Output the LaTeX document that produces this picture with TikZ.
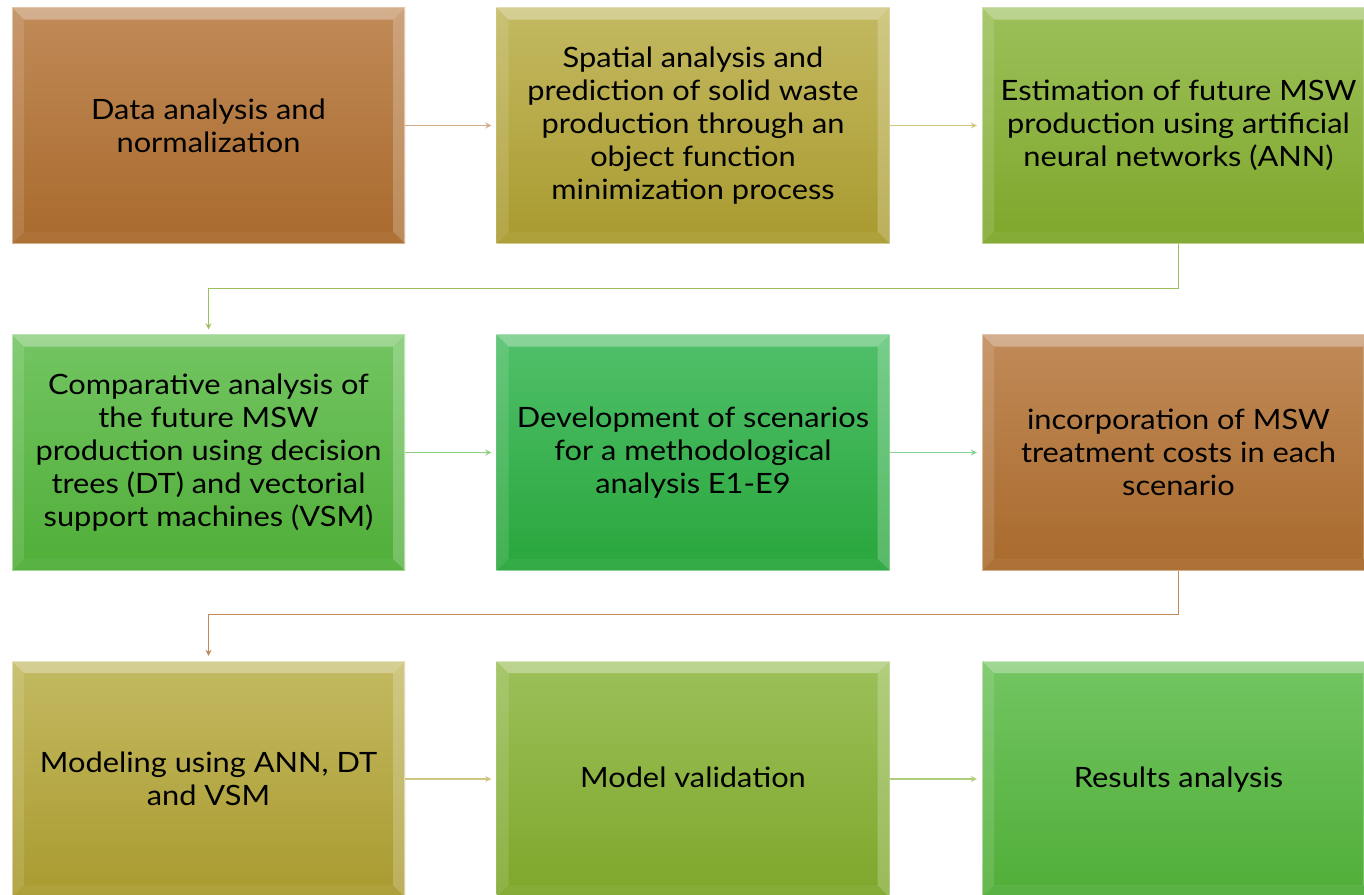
\documentclass[tikz,border=0pt]{standalone}
\usepackage{fontspec}
\setmainfont{Lato}[FakeStretch=1.1]
\usepackage{xcolor}
\definecolor{brownT}{HTML}{C08A58}
\definecolor{brownB}{HTML}{A96A2C}
\definecolor{oliveT}{HTML}{C3B961}
\definecolor{oliveB}{HTML}{A99A2F}
\definecolor{lemonT}{HTML}{9CC05A}
\definecolor{lemonB}{HTML}{7EA72B}
\definecolor{leafT}{HTML}{73C562}
\definecolor{leafB}{HTML}{50AE38}
\definecolor{grassT}{HTML}{50C06A}
\definecolor{grassB}{HTML}{29A63C}
\usepackage{tikz}
\usetikzlibrary{positioning,arrows.meta,calc}

\tikzset{
  stagebox/.style={minimum width=393pt, minimum height=236pt, inner sep=0pt,
    align=center, font=\fontsize{28}{33}\selectfont,
    top color=#1T, bottom color=#1B,
    path picture={
      \coordinate (nw) at (path picture bounding box.north west);
      \coordinate (ne) at (path picture bounding box.north east);
      \coordinate (sw) at (path picture bounding box.south west);
      \coordinate (se) at (path picture bounding box.south east);
      % bevelled rim
      \fill[white, opacity=.32] (nw) -- (ne) -- ($(ne)+(-12pt,-12pt)$) -- ($(nw)+(12pt,-12pt)$) -- cycle;
      \fill[white, opacity=.12] (nw) -- ($(nw)+(12pt,-12pt)$) -- ($(sw)+(12pt,12pt)$) -- (sw) -- cycle;
      \fill[white, opacity=.22] (ne) -- ($(ne)+(-12pt,-12pt)$) -- ($(se)+(-12pt,12pt)$) -- (se) -- cycle;
      \fill[white, opacity=.05] (sw) -- ($(sw)+(12pt,12pt)$) -- ($(se)+(-12pt,12pt)$) -- (se) -- cycle;
      \draw[white, opacity=.45, line width=1.5pt] (nw) rectangle (se);
    }},
  flow/.style={draw=#1, line width=1.1pt, shorten >=5pt,
    -{Stealth[length=6pt, width=6pt]}},
}

\begin{document}
\begin{tikzpicture}[x=1pt, y=1pt]
  \useasboundingbox (0,0) rectangle (1364,-894);
  \clip (0,0) rectangle (1364,-894);

  % first row
  \node[stagebox=brown] (datanorm) at (208.5,-125.5) {Data analysis and\\normalization};
  \node[stagebox=olive] (spatial) at (693,-125.5)
       {Spatial analysis and\\prediction of solid waste\\production through an\\object function\\minimization process};
  \node[stagebox=lemon] (annest) at (1178.5,-125.5)
       {Estimation of future MSW\\production using artificial\\neural networks (ANN)};

  % second row
  \node[stagebox=leaf] (comparative) at (208.5,-452.5)
       {Comparative analysis of\\the future MSW\\production using decision\\trees (DT) and vectorial\\support machines (VSM)};
  \node[stagebox=grass] (scenarios) at (693,-452.5)
       {Development of scenarios\\for a methodological\\analysis E1-E9};
  \node[stagebox=brown] (costs) at (1178.5,-452.5)
       {incorporation of MSW\\treatment costs in each\\scenario};

  % third row
  \node[stagebox=olive] (modeling) at (208.5,-779) {Modeling using ANN, DT\\and VSM};
  \node[stagebox=lemon, text depth=4pt] (validation) at (693,-779) {Model validation};
  \node[stagebox=leaf, text depth=4pt] (results) at (1178.5,-779) {Results analysis};

  % connectors
  \draw[flow=brownT!70!white] (datanorm) -- (spatial);
  \draw[flow=oliveT!80!white] (spatial) -- (annest);
  \draw[flow=lemonT] (annest.south) -- ++(0,-45) -| (comparative.north);
  \draw[flow=leafT!80!white] (comparative) -- (scenarios);
  \draw[flow=grassT!70!white] (scenarios) -- (costs);
  \draw[flow=brownT] (costs.south) -- ++(0,-44) -| (modeling.north);
  \draw[flow=oliveT!80!white] (modeling) -- (validation);
  \draw[flow=lemonT!80!white] (validation) -- (results);
\end{tikzpicture}
\end{document}
